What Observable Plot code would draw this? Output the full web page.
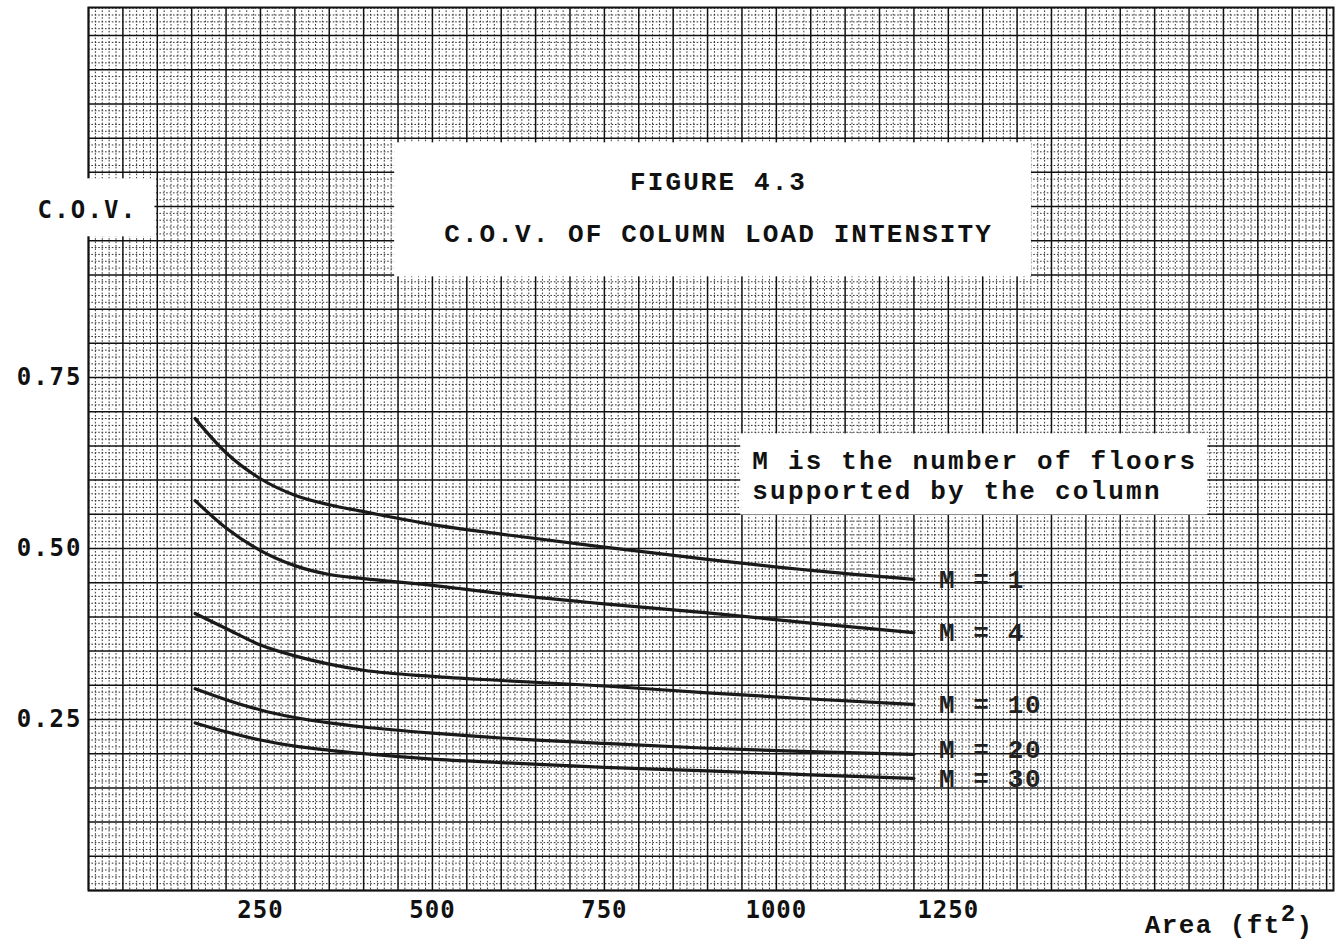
<!DOCTYPE html>
<html>
<head>
<meta charset="utf-8">
<script src="https://cdn.jsdelivr.net/npm/d3@7"></script>
<script src="https://cdn.jsdelivr.net/npm/@observablehq/plot@0.6"></script>
<style>
  html, body { margin: 0; padding: 0; background: #fff; }
  #chart svg { display: block; }
</style>
</head>
<body>
<div id="chart"></div>
<script>
// Tributary floor area (ft²) at which each curve is sampled
const areas = [155, 200, 250, 300, 350, 400, 500, 600, 750, 900, 1050, 1200];

// Number of floors M supported by the column (one curve each)
const floors = [1, 4, 10, 20, 30];

// C.O.V. of column load intensity for each M, aligned with `areas`
const covM1  = [0.690, 0.640, 0.602, 0.578, 0.564, 0.554, 0.535, 0.521, 0.502, 0.484, 0.468, 0.455];
const covM4  = [0.570, 0.530, 0.497, 0.475, 0.462, 0.456, 0.446, 0.434, 0.419, 0.406, 0.391, 0.377];
const covM10 = [0.405, 0.383, 0.359, 0.343, 0.331, 0.322, 0.313, 0.307, 0.299, 0.289, 0.280, 0.272];
const covM20 = [0.295, 0.279, 0.264, 0.253, 0.245, 0.239, 0.230, 0.223, 0.215, 0.208, 0.203, 0.199];
const covM30 = [0.245, 0.232, 0.220, 0.211, 0.205, 0.200, 0.192, 0.187, 0.180, 0.175, 0.169, 0.164];

// Axis tick values
const xTicks = [250, 500, 750, 1000, 1250];
const yTicks = [0.25, 0.50, 0.75];

// Text
const titleLines = ["FIGURE 4.3", "C.O.V. OF COLUMN LOAD INTENSITY"];
const noteLines = ["M is the number of floors", "supported by the column"];
const yLabel = "C.O.V.";
const xLabel = "Area (ft²)";

// Long table for the line and label marks
const covSeries = [covM1, covM4, covM10, covM20, covM30];
const rows = floors.flatMap((m, i) =>
  areas.map((a, j) => ({M: m, area: a, cov: covSeries[i][j]}))
);

// Graph-paper rulings: fine every 10 ft² / 0.01, heavy every 50 ft² / 0.05
const xMinor = d3.range(0, 182).map(i => i * 10).filter(v => v % 50 !== 0);
const xMajor = d3.range(0, 37).map(i => i * 50);
const yMinor = d3.range(0, 130).filter(i => i % 5 !== 0).map(i => i / 100);
const yMajor = d3.range(0, 26).map(i => i * 5 / 100);

const mono = "'DejaVu Sans Mono', monospace";
const courier = "'Liberation Mono', 'Courier New', monospace";
const ink = "#111";

// End-of-curve "M = n" labels; the M = 20 tag sits a little above its line end
const curveLabel = (subset, dy) => Plot.text(subset, Plot.selectLast({
  x: "area", y: "cov", z: "M",
  text: d => `M = ${d.M}`,
  textAnchor: "start", dx: 25, dy,
  fontFamily: courier, fontSize: 26, fontWeight: "bold", fill: "#222",
  ariaDescription: "curve-labels"
}));

const chart = Plot.plot({
  width: 1340,
  height: 940,
  marginLeft: 88,
  marginRight: 7,
  marginTop: 7,
  marginBottom: 50,
  style: {background: "#fff", color: ink, fontFamily: mono, fontSize: "24px"},
  x: {domain: [0, 1810], label: null},
  y: {domain: [0, 1.291], label: null},
  marks: [
    Plot.ruleX(xMinor, {stroke: "#333", strokeWidth: 1, strokeDasharray: "1.6 1.8"}),
    Plot.ruleY(yMinor, {stroke: "#333", strokeWidth: 1, strokeDasharray: "1.6 1.8"}),
    Plot.ruleX(xMajor, {stroke: ink, strokeWidth: 1.5}),
    Plot.ruleY(yMajor, {stroke: ink, strokeWidth: 1.5}),
    Plot.frame({stroke: ink, strokeWidth: 2}),

    Plot.axisX(xTicks, {tickSize: 0, tickPadding: 10, tickFormat: d3.format("d"),
                        fontSize: 24, fontFamily: mono, fontWeight: "bold"}),
    Plot.axisY(yTicks, {tickSize: 0, tickPadding: 6, tickFormat: d3.format(".2f"),
                        fontSize: 24, fontFamily: mono, fontWeight: "bold"}),

    Plot.line(rows, {x: "area", y: "cov", z: "M", curve: "monotone-x", stroke: "#1a1a1a", strokeWidth: 3.2}),
    curveLabel(rows.filter(d => d.M !== 20), 0),
    curveLabel(rows.filter(d => d.M === 20), -5),

    Plot.text([titleLines.join("\n")], {
      x: 916, y: 1.010, textAnchor: "middle", lineHeight: 2,
      fontFamily: courier, fontSize: 26, fontWeight: "bold", fill: ink, ariaDescription: "title"
    }),
    Plot.text([noteLines.join("\n")], {
      x: 965, y: 0.608, textAnchor: "start", lineHeight: 1.12,
      fontFamily: courier, fontSize: 26, fontWeight: "bold", fill: ink, ariaDescription: "note"
    }),
    Plot.text([yLabel], {
      y: 0.994, frameAnchor: "left", dx: -51, textAnchor: "start",
      fontFamily: mono, fontSize: 24, fontWeight: "bold", fill: ink, ariaDescription: "y-label"
    }),
    Plot.text([xLabel], {
      frameAnchor: "bottom-right", dx: -20, dy: 42, textAnchor: "end",
      fontFamily: courier, fontSize: 26, fontWeight: "bold", fill: ink, ariaDescription: "x-label"
    })
  ]
});

document.getElementById("chart").appendChild(chart);

const svg = d3.select(chart);

// Typewriter letter spacing
const spacing = [
  ['aria-label="x-axis tick label"', "1px"],
  ['aria-label="y-axis tick label"', "2px"],
  ['aria-description="y-label"', "2.2px"],
  ['aria-description="title"', "2.1px"],
  ['aria-description="note"', "2.2px"],
  ['aria-description="curve-labels"', "1.6px"],
  ['aria-description="x-label"', "1.4px"]
];
for (const [sel, ls] of spacing) svg.selectAll(`g[${sel}]`).style("letter-spacing", ls);

// Axis title: the exponent is typed as a raised full-size figure
svg.selectAll('g[aria-description="x-label"] text').each(function () {
  const t = d3.select(this);
  const s = t.text();
  const k = s.indexOf("²");
  if (k < 0) return;
  t.text(s.slice(0, k));
  t.append("tspan").attr("dy", "-0.5em").attr("font-size", 24).text("2");
  t.append("tspan").attr("dy", "0.5em").text(s.slice(k + 1));
});

// Paper blanked out behind the pasted-on text blocks
function blank(name, padL, padR, padT, padB) {
  const g = svg.select(`g[aria-description="${name}"]`).node();
  if (!g) return;
  const b = g.getBBox();
  const r = document.createElementNS("http://www.w3.org/2000/svg", "rect");
  r.setAttribute("x", b.x - padL);
  r.setAttribute("y", b.y - padT);
  r.setAttribute("width", b.width + padL + padR);
  r.setAttribute("height", b.height + padT + padB);
  r.setAttribute("fill", "#fff");
  const tf = g.getAttribute("transform");
  if (tf) r.setAttribute("transform", tf);
  g.parentNode.insertBefore(r, g);
}
blank("title", 50, 38, 26, 26);
blank("note", 12, 10, 14, 8);
blank("y-label", 4, 17, 18, 12);
</script>
</body>
</html>
